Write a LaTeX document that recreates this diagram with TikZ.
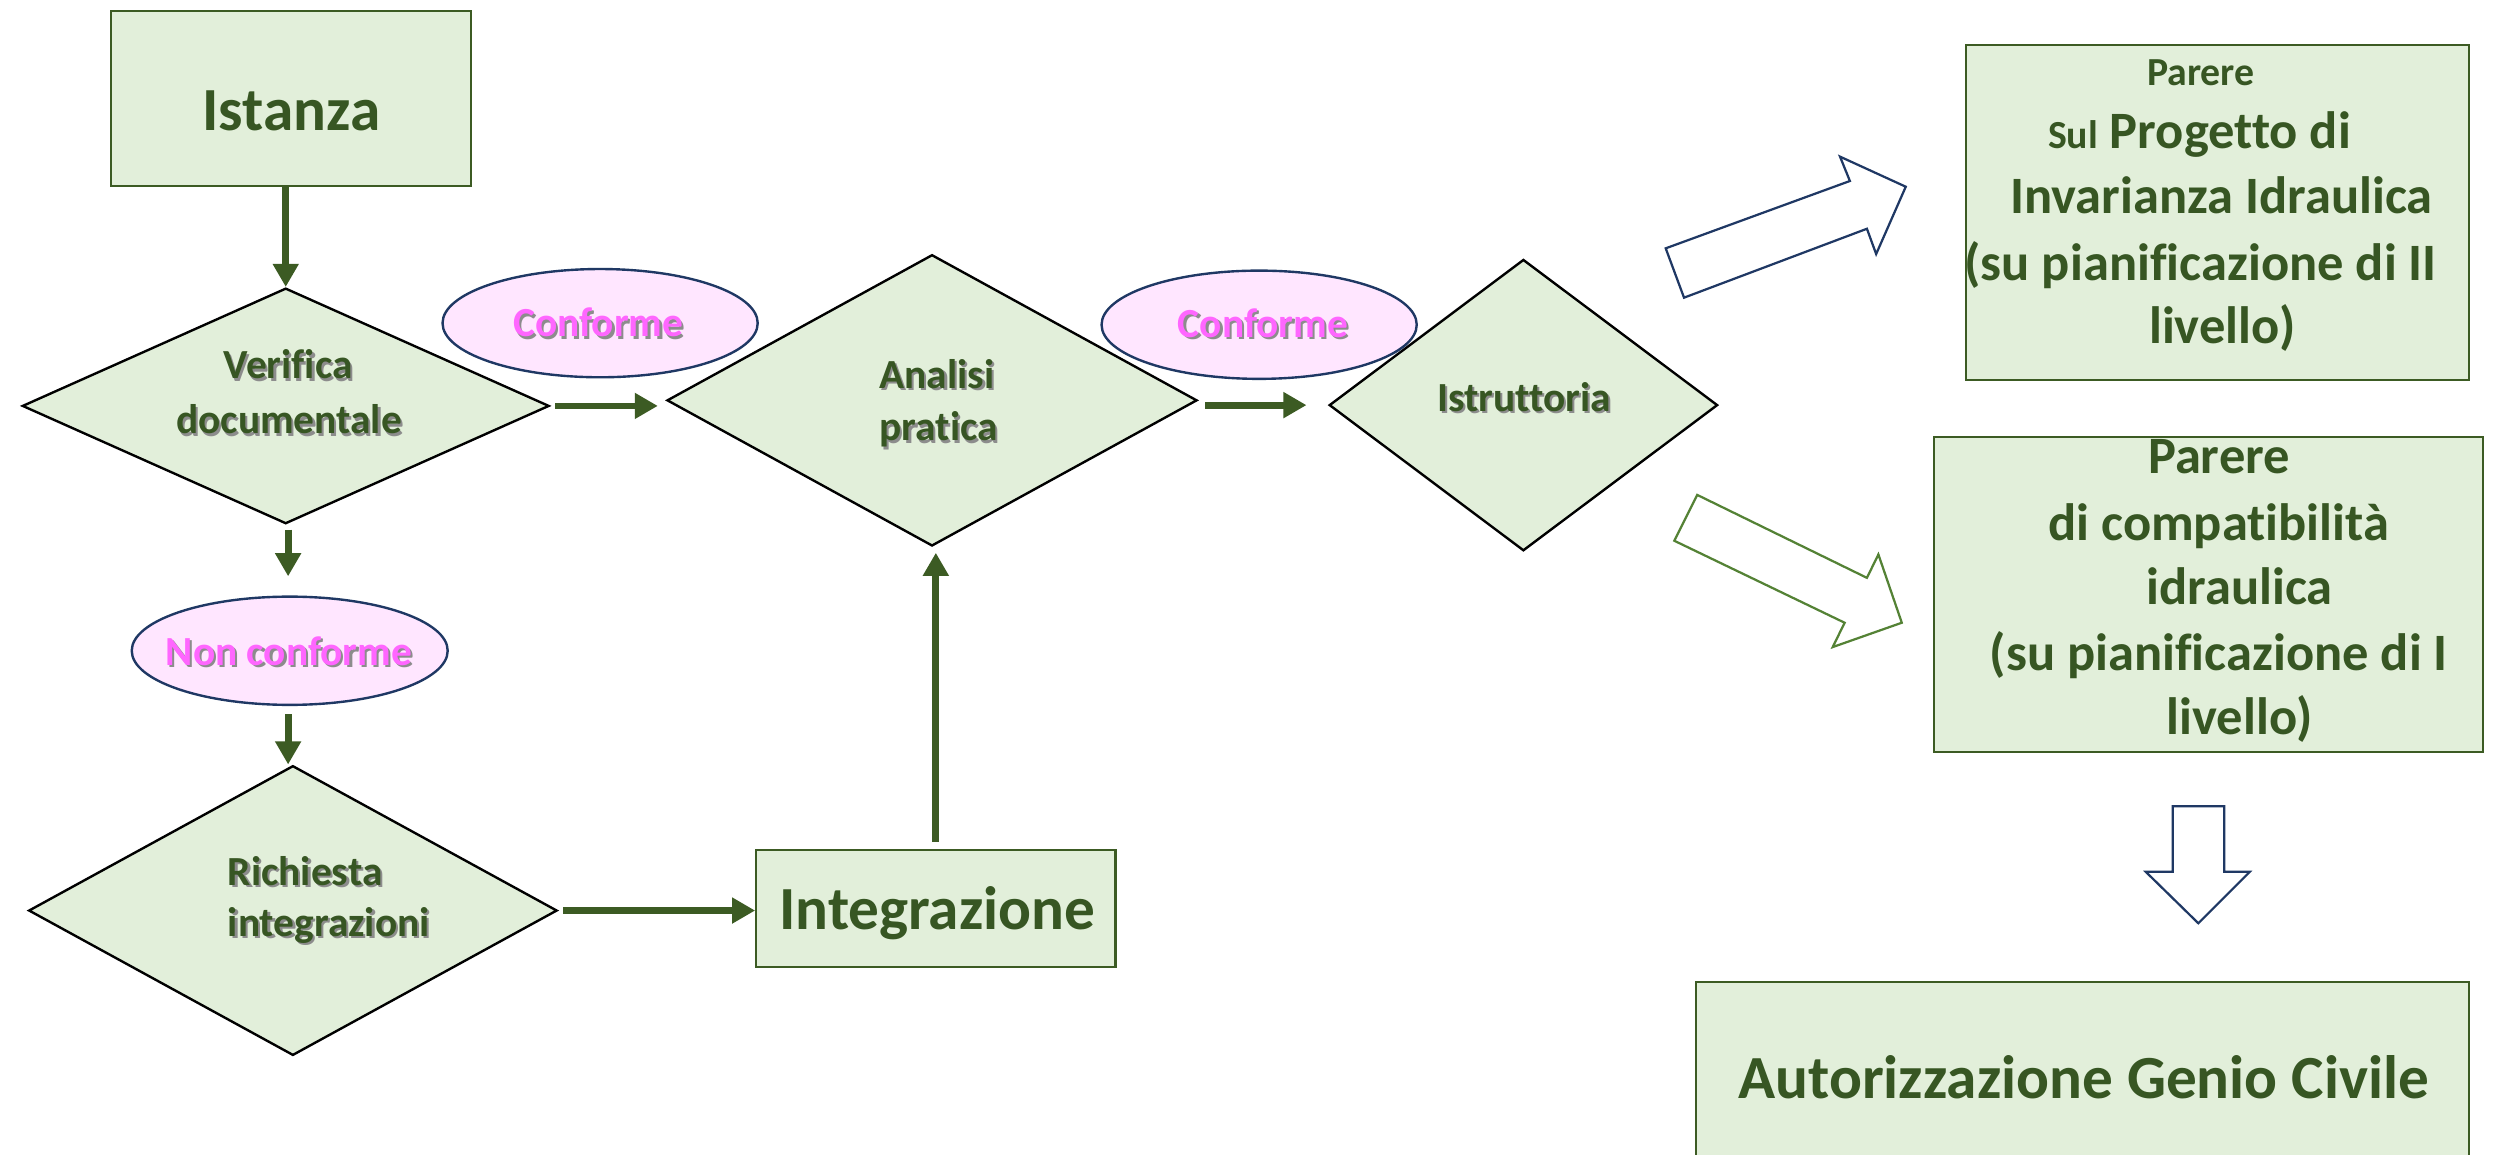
\documentclass[tikz,border=0pt]{standalone}
\usepackage{fontspec}
\setmainfont{Carlito}[Ligatures={NoCommon}]
\usetikzlibrary{shapes.geometric,arrows.meta,calc}
\definecolor{lg}{HTML}{E2EFDA}
\definecolor{dg}{HTML}{375623}
\definecolor{agreen}{HTML}{3C5B23}
\definecolor{bgreen}{HTML}{3C5B23}
\definecolor{navy}{HTML}{1F3864}
\definecolor{pinkf}{HTML}{FFE6FF}
\definecolor{pinkt}{HTML}{FF66FF}
\definecolor{lgreen}{HTML}{548235}
\definecolor{shcol}{HTML}{8C8C8C}
\newcommand{\shtxt}[4]{%
  \node[#3,text=shcol] (#1s) at ($(#2)+(1.4,1.4)$) {#4};
  \node[#3] (#1) at (#2) {#4};}
\begin{document}
\begin{tikzpicture}[x=1pt,y=-1pt,
  box/.style={rectangle, draw=bgreen, fill=lg, line width=1.3pt, inner sep=0},
  dia/.style={diamond, draw=black, fill=lg, line width=1.5pt, inner sep=0},
  ell/.style={ellipse, draw=navy, fill=pinkf, line width=1.5pt, inner sep=0},
  arr/.style={draw=agreen, line width=4.3pt, -{Triangle[length=14.5pt,width=15.5pt]}},
  t26/.style={font=\fontsize{26}{31}\selectfont\bfseries, text=dg, inner sep=0, anchor=base},
  t26l/.style={t26, anchor=base west},
  p26/.style={font=\fontsize{26}{31}\selectfont\bfseries, text=pinkt, inner sep=0, anchor=base},
  t33/.style={font=\fontsize{33}{40}\selectfont\bfseries, text=dg, inner sep=0, anchor=base},
  t25/.style={font=\fontsize{25}{30}\selectfont\bfseries, text=dg, inner sep=0, anchor=base},
  t39/.style={font=\fontsize{38.5}{46}\selectfont\bfseries, text=dg, inner sep=0, anchor=base},
  blocknavy/.style={draw=navy, fill=white, line width=1.4pt, line join=miter},
  blockgreen/.style={draw=lgreen, fill=white, line width=1.4pt, line join=miter}
]
\useasboundingbox[fill=white] (0,0) rectangle (1568,725);

% shapes
\node[box, minimum width=225.8pt, minimum height=110pt] (istanza) at (182.7,62) {};
\node[dia, minimum width=331pt, minimum height=148pt] (verifica) at (179.5,255) {};
\node[dia, minimum width=333pt, minimum height=183pt] (analisi) at (585.5,251.5) {};
\node[dia, minimum width=244pt, minimum height=183pt] (istr) at (957,254.5) {};
\node[dia, minimum width=332pt, minimum height=182pt] (richiesta) at (184,572) {};
\node[box, minimum width=225.7pt, minimum height=73.5pt] (integ) at (587.9,570.8) {};
\node[ell, minimum width=198pt, minimum height=68pt] (conf1) at (377,203) {};
\node[ell, minimum width=198pt, minimum height=68pt] (conf2) at (791,204) {};
\node[ell, minimum width=198.5pt, minimum height=68pt] (nonconf) at (182,408.8) {};
\node[box, minimum width=315.9pt, minimum height=210.4pt] (parere1) at (1392.9,133.5) {};
\node[box, minimum width=344.6pt, minimum height=197.9pt] (parere2) at (1387.5,373.2) {};
\node[box, minimum width=485.7pt, minimum height=120pt] (autor) at (1308,676.8) {};

% texts
\node[t39] (istanzat) at (183,82) {Istanza};
\node[t39] (integt) at (588.8,583.7) {Integrazione};
\node[t39] (autort) at (1309,690) {Autorizzazione Genio Civile};

\shtxt{verA}{181,238}{t26}{Verifica}
\shtxt{verB}{181.6,272.5}{t26}{documentale}
\shtxt{anaA}{552.4,244}{t26l}{Analisi}
\shtxt{anaB}{552.4,277}{t26l}{pratica}
\shtxt{istrA}{957.4,258.6}{t26}{Istruttoria}
\shtxt{ricA}{143,556}{t26l}{Richiesta}
\shtxt{ricB}{143,588}{t26l}{integrazioni}
\shtxt{confA}{375.8,211.7}{p26}{Conforme}
\shtxt{confB}{793.4,211.9}{p26}{Conforme}
\shtxt{nconfA}{181.5,417.8}{p26}{Non conforme}

\node[t25] (p1a) at (1382.6,53.4) {Parere};
\node[t33] (p1b) at (1381.8,93.6) {{\fontsize{25}{30}\selectfont Sul} Progetto di};
\node[t33] (p1c) at (1395.5,134) {Invarianza Idraulica};
\node[t33] (p1d) at (1382.4,175.9) {(su pianificazione di II};
\node[t33] (p1e) at (1396,215.7) {livello)};

\node[t33] (p2a) at (1394,297.7) {Parere};
\node[t33] (p2b) at (1393.8,339.7) {di compatibilità};
\node[t33] (p2c) at (1407,380) {idraulica};
\node[t33] (p2d) at (1393.8,421.2) {(su pianificazione di I};
\node[t33] (p2e) at (1407,461.5) {livello)};

% connectors
\draw[arr] (verifica.north |- istanza.south) -- (verifica.north);
\draw[arr, shorten <=3pt, shorten >=5pt] (verifica.east) -- (verifica.east -| analisi.west);
\draw[arr, shorten <=3pt, shorten >=12pt] ([xshift=1.5pt]verifica.south) -- ([xshift=1.5pt]verifica.south |- nonconf.north);
\draw[arr, shorten <=5pt] ([xshift=-3pt]richiesta.north |- nonconf.south) -- ([xshift=-3pt]richiesta.north);
\draw[arr, shorten <=3pt] (richiesta.east) -- (richiesta.east -| integ.west);
\draw[arr, shorten <=4.5pt, shorten >=3.5pt] (integ.north) -- (integ.north |- analisi.south);
\draw[arr, shorten <=4.5pt, shorten >=13.5pt] (analisi.east |- istr.west) -- (istr.west);

% block arrows
\draw[blocknavy] (1046.4,156) -- (1162.1,113.7) -- (1155.9,98.4) -- (1197.2,117.3)
  -- (1178.6,159.6) -- (1172.8,143.7) -- (1057.9,187) -- cycle;
\draw[blockgreen] (1066.2,310.9) -- (1172.8,363) -- (1180,348.3) -- (1194.7,391.2)
  -- (1151.3,406.5) -- (1158.8,391.2) -- (1051.8,339.7) -- cycle;
\draw[blocknavy] (1364.9,506.5) -- (1397.2,506.5) -- (1397.2,547.7) -- (1413.3,547.7)
  -- (1381,580) -- (1348,547.7) -- (1364.9,547.7) -- cycle;
\end{tikzpicture}
\end{document}
